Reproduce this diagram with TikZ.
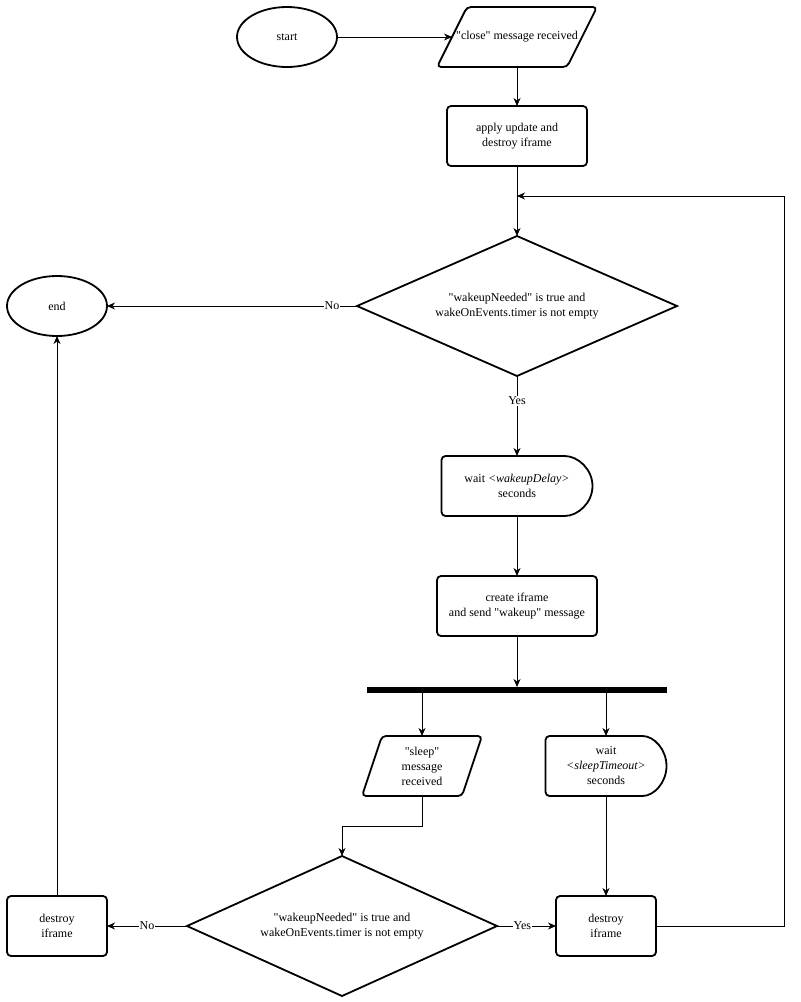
\documentclass[tikz,border=0pt]{standalone}
\usepackage{fontspec}
\setmainfont{Liberation Serif}[Ligatures=TeXOff]
\usetikzlibrary{arrows.meta,positioning,shapes.geometric}
\tikzset{
  base/.style  = {align=center, font=\fontsize{12}{15}\selectfont,
                  outer sep=0pt, inner sep=2pt},
  term/.style  = {base, ellipse, draw=black, line width=1.8pt,
                  minimum width=100pt, minimum height=60pt},
  proc/.style  = {base, rectangle, draw=black, line width=1.8pt,
                  rounded corners=4pt, minimum height=60pt},
  cond/.style  = {base, diamond, draw=black, line width=1.8pt, aspect=2.2,
                  inner sep=0pt, minimum height=140pt},
  hold/.style  = {base, rectangle, minimum height=60pt},
  outl/.style  = {draw=black, line width=1.8pt, rounded corners=4pt},
  fork/.style  = {rectangle, fill=black, minimum width=300pt,
                  minimum height=6pt, inner sep=0pt, outer sep=0pt},
  lab/.style   = {font=\fontsize{12}{14}\selectfont, fill=white, inner sep=1pt},
  arr/.style   = {-{Stealth[length=8pt,width=7pt,inset=2.5pt]}, draw=black,
                  line width=1pt},
}
\begin{document}
\begin{tikzpicture}[x=1pt, y=-1pt]
  \useasboundingbox (0,0) rectangle (801,1002);
  % trigger
  \node[term] (start) at (287,37) {start};
  \node[hold, minimum width=160pt] (msg) at (517,37) {"close" message received};
  \draw[outl] ([xshift=30pt]msg.north west) -- (msg.north east)
    -- ([xshift=-30pt]msg.south east) -- (msg.south west) -- cycle;
  \node[proc, minimum width=140pt, below=39pt of msg] (apply) {apply update and\\destroy iframe};
  \coordinate[below=30pt of apply] (join);
  % first check
  \node[cond, minimum width=320pt, below=70pt of apply] (chk1)
    {"wakeupNeeded" is true and\\wakeOnEvents.timer is not empty};
  \node[term] (stop) at (57,306) {end};
  % wake up
  \node[hold, minimum width=151pt, below=80pt of chk1] (dly) {wait \textit{<wakeupDelay>}\\seconds};
  \draw[outl] (dly.north west) -- ([xshift=-32pt]dly.north east)
    arc[start angle=90, end angle=-90, x radius=32pt, y radius=30pt]
    -- (dly.south west) -- cycle;
  \node[proc, minimum width=160pt, below=60pt of dly] (mk) {create iframe\\and send "wakeup" message};
  \node[fork, below=51pt of mk] (split) {};
  % two branches
  \node[hold, minimum width=120pt] (sleep) at (422,766) {"sleep"\\message\\received};
  \draw[outl] ([xshift=20pt]sleep.north west) -- (sleep.north east)
    -- ([xshift=-20pt]sleep.south east) -- (sleep.south west) -- cycle;
  \node[hold, minimum width=121pt] (tmo) at (606,766) {wait\\\textit{<sleepTimeout>}\\seconds};
  \draw[outl] (tmo.north west) -- ([xshift=-28pt]tmo.north east)
    arc[start angle=90, end angle=-90, x radius=28pt, y radius=30pt]
    -- (tmo.south west) -- cycle;
  % second check
  \node[cond, minimum width=310pt] (chk2) at (342,926)
    {"wakeupNeeded" is true and\\wakeOnEvents.timer is not empty};
  \node[proc, minimum width=100pt] (kill1) at (57,926) {destroy\\iframe};
  \node[proc, minimum width=100pt, below=100pt of tmo] (kill2) {destroy\\iframe};
  % connectors
  \draw[arr] (start) -- ([xshift=15pt]msg.west);
  \draw[arr] (msg) -- (apply);
  \draw[arr] (apply) -- (chk1);
  \draw[arr] (chk1) -- node[lab, pos=0.1] {No} (stop);
  \draw[arr] (chk1) -- node[lab, pos=0.31] {Yes} (dly);
  \draw[arr] (dly) -- (mk);
  \draw[arr] (mk) -- (split);
  \draw[arr] (split.south -| sleep) -- (sleep);
  \draw[arr] (split.south -| tmo) -- (tmo);
  \draw[arr] (sleep.south) -- ++(0,-30pt) -| (chk2);
  \draw[arr] (tmo) -- (kill2);
  \draw[arr] (chk2) -- node[lab] {No} (kill1);
  \draw[arr] (chk2) -- node[lab, pos=0.43] {Yes} (kill2);
  \draw[arr] (kill1) -- (stop);
  \draw[arr] (kill2.east) -- ++(128pt,0) |- (join);
\end{tikzpicture}
\end{document}
